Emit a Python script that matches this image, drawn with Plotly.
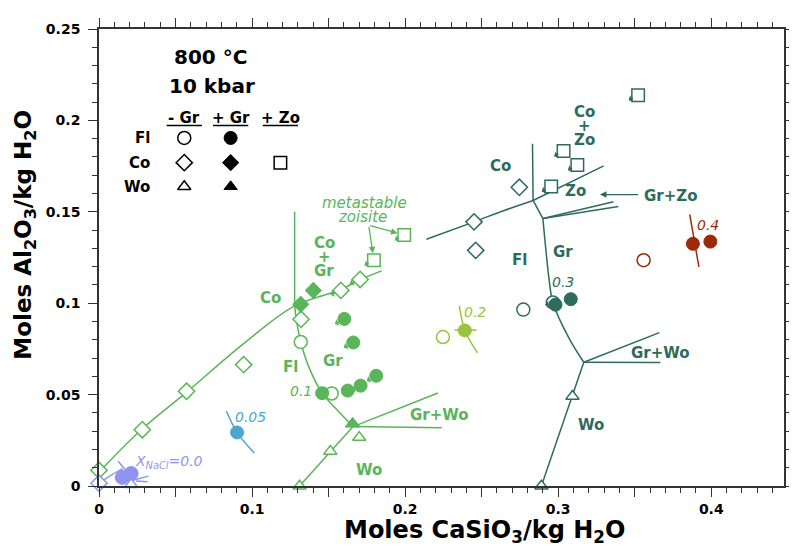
import plotly.graph_objects as go

# ---------------- colours ----------------
GREEN = "#5ab55a"
TEAL = "#2e6b5c"
RED = "#9b2a0a"
YGREEN = "#97c43c"
CYAN = "#4da6cf"
LBLUE = "#8f95ef"

# ---------------- data: X_NaCl = 0.1 (green) ----------------
g_fl_open_x = [0.1318, 0.152]
g_fl_open_y = [0.0788, 0.0506]
g_fl_gr_x = [0.1458, 0.1625, 0.1709, 0.1811, 0.1661, 0.1603]
g_fl_gr_y = [0.0508, 0.0522, 0.0549, 0.0603, 0.0785, 0.0914]
g_co_open_x = [0.0, 0.0283, 0.0572, 0.0945, 0.132, 0.158, 0.1706]
g_co_open_y = [0.0086, 0.0308, 0.0518, 0.0664, 0.0912, 0.107, 0.113]
g_co_gr_x = [0.1318, 0.140]
g_co_gr_y = [0.0994, 0.107]
g_zo_x = [0.1796, 0.1994]
g_zo_y = [0.1235, 0.1373]
g_wo_open_x = [0.170, 0.1511, 0.131]
g_wo_open_y = [0.0266, 0.019, 0.0]
g_wo_gr_x = [0.1657]
g_wo_gr_y = [0.034]

g_co_curve_x = [0.0, 0.0283, 0.0579, 0.0945, 0.1278, 0.158, 0.1704, 0.1846]
g_co_curve_y = [0.0076, 0.0313, 0.0518, 0.0779, 0.0985, 0.1075, 0.1128, 0.1177]
g_vert_x = [0.1278, 0.1278]
g_vert_y = [0.1501, 0.0985]
g_flgr_x = [0.1278, 0.1293, 0.1318, 0.137, 0.1458, 0.155, 0.166]
g_flgr_y = [0.0985, 0.0891, 0.0788, 0.0653, 0.0508, 0.0421, 0.0325]
g_wo_line_x = [0.131, 0.166]
g_wo_line_y = [0.0, 0.0325]
g_grwo_a_x = [0.166, 0.2214]
g_grwo_a_y = [0.0325, 0.0509]
g_grwo_b_x = [0.166, 0.2239]
g_grwo_b_y = [0.0325, 0.0318]

# ---------------- data: X_NaCl = 0.3 (teal) ----------------
t_fl_open_x = [0.2772, 0.2965]
t_fl_open_y = [0.0965, 0.1004]
t_fl_gr_x = [0.2982, 0.3082]
t_fl_gr_y = [0.0992, 0.1022]
t_co_open_x = [0.245, 0.2461, 0.2746]
t_co_open_y = [0.1445, 0.1289, 0.1634]
t_zo_x = [0.2954, 0.3035, 0.3125, 0.3522]
t_zo_y = [0.1638, 0.1832, 0.1756, 0.2138]
t_wo_open_x = [0.3093, 0.289]
t_wo_open_y = [0.0491, 0.0]

t_co_curve_x = [0.2139, 0.245, 0.2643, 0.2836]
t_co_curve_y = [0.135, 0.1445, 0.1506, 0.1562]
t_vert_x = [0.2832, 0.2836]
t_vert_y = [0.1872, 0.1562]
t_zo_line_x = [0.2836, 0.3297]
t_zo_line_y = [0.1562, 0.1751]
t_link_x = [0.2836, 0.29]
t_link_y = [0.1562, 0.1463]
t_grzo_a_x = [0.29, 0.3361]
t_grzo_a_y = [0.1463, 0.1555]
t_grzo_b_x = [0.29, 0.3393]
t_grzo_b_y = [0.1463, 0.1529]
t_flgr_x = [0.29, 0.2911, 0.2943, 0.2965, 0.3072, 0.3167]
t_flgr_y = [0.1463, 0.1364, 0.1112, 0.1004, 0.0806, 0.0677]
t_wo_line_x = [0.289, 0.3167]
t_wo_line_y = [0.0, 0.0677]
t_grwo_a_x = [0.3167, 0.3661]
t_grwo_a_y = [0.0677, 0.0839]
t_grwo_b_x = [0.3167, 0.3667]
t_grwo_b_y = [0.0677, 0.0675]

# ---------------- data: X_NaCl = 0.4 (red) ----------------
r_fl_open_x = [0.3558]
r_fl_open_y = [0.1235]
r_fl_gr_x = [0.388, 0.3994]
r_fl_gr_y = [0.1325, 0.1337]
r_line_x = [0.3859, 0.3919]
r_line_y = [0.1486, 0.1199]

# ---------------- data: X_NaCl = 0.2 (yellow-green) ----------------
y_fl_open_x = [0.2247]
y_fl_open_y = [0.0815]
y_fl_gr_x = [0.239]
y_fl_gr_y = [0.0851]
y_line_x = [0.2354, 0.239, 0.2472]
y_line_y = [0.0986, 0.0851, 0.0729]
y_tick_x = [0.2322, 0.2467]
y_tick_y = [0.0853, 0.0853]

# ---------------- data: X_NaCl = 0.05 (cyan) ----------------
c_fl_gr_x = [0.0902]
c_fl_gr_y = [0.0293]
c_line_x = [0.0832, 0.0902, 0.1014]
c_line_y = [0.041, 0.0293, 0.018]

# ---------------- data: X_NaCl = 0.0 (light blue) ----------------
b_co_open_x = [0.0]
b_co_open_y = [0.0015]
b_fl_gr_x = [0.0152, 0.021]
b_fl_gr_y = [0.0047, 0.0068]
b_wo_open_x = [0.021]
b_wo_open_y = [0.0008]
b_line_x = [0.0, 0.008, 0.0155]
b_line_y = [0.0015, 0.006, 0.0095]
b_tick_x = [0.0125, 0.017]
b_tick_y = [0.0135, 0.009]
b_wh1_x = [0.0221, 0.0323]
b_wh1_y = [0.0032, 0.0054]
b_wh2_x = [0.0242, 0.0317]
b_wh2_y = [0.0027, 0.0023]

# ---------------- symbol key ----------------
key_cols = [0.0557, 0.086, 0.1185]
key_rows = [0.1904, 0.1769, 0.1638]
key_row_labels = ["Fl", "Co", "Wo"]
key_headers = ["- Gr", "+ Gr", "+ Zo"]
key_header_y = 0.2012
key_underline_y = 0.1972
key_underline_half = 0.0115

# ---------------- axes ----------------
x_range = [0, 0.4475]
y_range = [0, 0.25]
x_tickvals = [0, 0.05, 0.1, 0.15, 0.2, 0.25, 0.3, 0.35, 0.4, 0.45]
x_ticktext = ["0", "", "0.1", "", "0.2", "", "0.3", "", "0.4", ""]
y_tickvals = [0, 0.05, 0.1, 0.15, 0.2, 0.25]
y_ticktext = ["0", "0.05", "0.1", "0.15", "0.2", "0.25"]

FONT = "DejaVu Sans"
LAB = 15
fig = go.Figure()


def line(xs, ys, color, width=1.5, shape="linear"):
    fig.add_trace(go.Scatter(x=xs, y=ys, mode="lines", line=dict(color=color, width=width, shape=shape),
                             showlegend=False, hoverinfo="skip", cliponaxis=False))


def pts(xs, ys, color, symbol, filled, size=13):
    fig.add_trace(go.Scatter(
        x=xs, y=ys, mode="markers", showlegend=False, hoverinfo="skip", cliponaxis=False,
        marker=dict(symbol=symbol, size=size, color=color if filled else "white",
                    line=dict(color=color, width=1.0 if filled else 1.5))))


def tail(x, y, color, ax=-11, ay=6):
    fig.add_annotation(x=x, y=y, ax=ax, ay=ay, text="", showarrow=True, arrowside="start",
                       arrowhead=2, arrowsize=0.8, arrowwidth=1.2, arrowcolor=color, standoff=6)


# lines
line(g_co_curve_x, g_co_curve_y, GREEN, shape="spline")
line(g_vert_x, g_vert_y, GREEN)
line(g_flgr_x, g_flgr_y, GREEN, shape="spline")
line(g_wo_line_x, g_wo_line_y, GREEN)
line(g_grwo_a_x, g_grwo_a_y, GREEN)
line(g_grwo_b_x, g_grwo_b_y, GREEN)

line(t_co_curve_x, t_co_curve_y, TEAL, shape="spline")
line(t_vert_x, t_vert_y, TEAL)
line(t_zo_line_x, t_zo_line_y, TEAL)
line(t_link_x, t_link_y, TEAL)
line(t_grzo_a_x, t_grzo_a_y, TEAL)
line(t_grzo_b_x, t_grzo_b_y, TEAL)
line(t_flgr_x, t_flgr_y, TEAL, shape="spline")
line(t_wo_line_x, t_wo_line_y, TEAL)
line(t_grwo_a_x, t_grwo_a_y, TEAL)
line(t_grwo_b_x, t_grwo_b_y, TEAL)

line(r_line_x, r_line_y, RED, shape="spline")
line(y_line_x, y_line_y, YGREEN, shape="spline")
line(y_tick_x, y_tick_y, YGREEN)
line(c_line_x, c_line_y, CYAN, shape="spline")
line(b_line_x, b_line_y, LBLUE, shape="spline")
line(b_tick_x, b_tick_y, LBLUE)
line(b_wh1_x, b_wh1_y, LBLUE)
line(b_wh2_x, b_wh2_y, LBLUE)

# tails (small arrows) attached to data points
for i in [2, 3, 4, 5]:
    tail(g_fl_gr_x[i], g_fl_gr_y[i], GREEN)
for i in range(len(g_zo_x)):
    tail(g_zo_x[i], g_zo_y[i], GREEN)
for i in [5, 6]:
    tail(g_co_open_x[i], g_co_open_y[i], GREEN, ax=-12, ay=5)
for i in range(len(t_zo_x)):
    tail(t_zo_x[i], t_zo_y[i], TEAL)
tail(t_fl_gr_x[0], t_fl_gr_y[0], TEAL, ax=-12, ay=0)

# markers
SZ_C, SZ_D, SZ_S, SZ_T = 13, 12.5, 12.5, 11.5
pts(g_co_open_x, g_co_open_y, GREEN, "diamond", False, SZ_D)
pts(g_co_gr_x, g_co_gr_y, GREEN, "diamond", True, SZ_D)
pts(g_zo_x, g_zo_y, GREEN, "square", False, SZ_S)
pts(g_fl_open_x, g_fl_open_y, GREEN, "circle", False, SZ_C)
pts(g_fl_gr_x, g_fl_gr_y, GREEN, "circle", True, SZ_C)
pts(g_wo_open_x, g_wo_open_y, GREEN, "triangle-up", False, SZ_T)
pts(g_wo_gr_x, g_wo_gr_y, GREEN, "triangle-up", True, 13)

pts(t_co_open_x, t_co_open_y, TEAL, "diamond", False, SZ_D)
pts(t_zo_x, t_zo_y, TEAL, "square", False, SZ_S)
pts(t_fl_open_x, t_fl_open_y, TEAL, "circle", False, SZ_C)
pts(t_fl_gr_x, t_fl_gr_y, TEAL, "circle", True, SZ_C)
pts(t_wo_open_x, t_wo_open_y, TEAL, "triangle-up", False, SZ_T)

pts(r_fl_open_x, r_fl_open_y, RED, "circle", False, SZ_C)
pts(r_fl_gr_x, r_fl_gr_y, RED, "circle", True, SZ_C)
pts(y_fl_open_x, y_fl_open_y, YGREEN, "circle", False, SZ_C)
pts(y_fl_gr_x, y_fl_gr_y, YGREEN, "circle", True, SZ_C)
pts(c_fl_gr_x, c_fl_gr_y, CYAN, "circle", True, SZ_C)
pts(b_co_open_x, b_co_open_y, LBLUE, "diamond", False, SZ_D)
pts(b_fl_gr_x, b_fl_gr_y, LBLUE, "circle", True, 14)
pts(b_wo_open_x, b_wo_open_y, LBLUE, "triangle-up", False, SZ_T)

# symbol key
key_syms = [["circle", "circle", None], ["diamond", "diamond", "square"], ["triangle-up", "triangle-up", None]]
key_sizes = {"circle": SZ_C, "diamond": SZ_D, "square": SZ_S, "triangle-up": SZ_T}
for r, row in enumerate(key_syms):
    for c, sym in enumerate(row):
        if sym is None:
            continue
        pts([key_cols[c]], [key_rows[r]], "black", sym, c == 1, key_sizes[sym])
for r, lab in enumerate(key_row_labels):
    fig.add_annotation(x=0.0345, y=key_rows[r], text=lab, showarrow=False, xanchor="right",
                       font=dict(family=FONT, size=15, color="black", weight="bold"))
for c, lab in enumerate(key_headers):
    fig.add_annotation(x=key_cols[c], y=key_header_y, text=lab, showarrow=False,
                       font=dict(family=FONT, size=15, color="black", weight="bold"))
    fig.add_shape(type="line", x0=key_cols[c] - key_underline_half, x1=key_cols[c] + key_underline_half,
                  y0=key_underline_y, y1=key_underline_y, line=dict(color="black", width=1.5))

# text labels
def label(text, x, y, color, size=LAB, bold=True, italic=False, xanchor="center"):
    fig.add_annotation(x=x, y=y, text=text, showarrow=False, xanchor=xanchor,
                       font=dict(family=FONT, size=size, color=color,
                                 weight="bold" if bold else "normal",
                                 style="italic" if italic else "normal"))

label("800 °C", 0.0729, 0.2345, "black", 20)
label("10 kbar", 0.0735, 0.2187, "black", 20)

label("Co", 0.112, 0.1026, GREEN)
label("Co", 0.147, 0.1328, GREEN)
label("+", 0.147, 0.1253, GREEN)
label("Gr", 0.147, 0.1177, GREEN)
label("Fl", 0.125, 0.0653, GREEN)
label("Gr", 0.1529, 0.0684, GREEN)
label("0.1", 0.1318, 0.0522, GREEN, 14, bold=False, italic=True)
label("Gr+Wo", 0.2225, 0.0387, GREEN)
label("Wo", 0.1764, 0.009, GREEN)
label("metastable", 0.1732, 0.1548, GREEN, 15, bold=False, italic=True)
label("zoisite", 0.1722, 0.1472, GREEN, 15, bold=False, italic=True)
for i in range(len(g_zo_x)):
    fig.add_annotation(x=g_zo_x[i], y=g_zo_y[i], ax=0.1762, ay=0.1426, axref="x", ayref="y",
                       text="", showarrow=True, arrowhead=2, arrowsize=1, arrowwidth=1.3,
                       arrowcolor=GREEN, standoff=7)

label("Co", 0.2622, 0.1748, TEAL)
label("Co", 0.3172, 0.2045, TEAL)
label("+", 0.3172, 0.1972, TEAL)
label("Zo", 0.3172, 0.1895, TEAL)
label("Zo", 0.311, 0.1616, TEAL)
label("Gr+Zo", 0.3545, 0.1589, TEAL, xanchor="left")
fig.add_annotation(x=0.3273, y=0.1594, ax=0.3531, ay=0.1594, axref="x", ayref="y", text="",
                   showarrow=True, arrowhead=2, arrowsize=1, arrowwidth=1.3, arrowcolor=TEAL)
label("Fl", 0.275, 0.1238, TEAL)
label("Gr", 0.3029, 0.1278, TEAL)
label("0.3", 0.3029, 0.1116, TEAL, 14, bold=False, italic=True)
label("Gr+Wo", 0.3667, 0.0729, TEAL)
label("Wo", 0.3215, 0.0335, TEAL)

label("0.4", 0.3976, 0.1427, RED, 14, bold=False, italic=True)
label("0.2", 0.2457, 0.095, YGREEN, 14, bold=False, italic=True)
label("0.05", 0.0988, 0.0378, CYAN, 14, bold=False, italic=True)
label("X<sub>NaCl</sub>=0.0", 0.0457, 0.0131, LBLUE, 14, bold=False, italic=True)

# axis titles
fig.add_annotation(xref="paper", yref="paper", x=0.563, y=-0.1, xanchor="center", yanchor="middle",
                   text="Moles CaSiO<sub>3</sub>/kg H<sub>2</sub>O",
                   showarrow=False, font=dict(family=FONT, size=24, color="black", weight="bold"))
fig.add_annotation(xref="paper", yref="paper", x=-0.108, y=0.55, xanchor="center", yanchor="middle",
                   text="Moles Al<sub>2</sub>O<sub>3</sub>/kg H<sub>2</sub>O",
                   showarrow=False, textangle=-90, font=dict(family=FONT, size=23, color="black", weight="bold"))

axis_common = dict(showline=True, linecolor="#333333", linewidth=1.6, mirror="ticks", ticks="outside",
                   ticklen=9, tickwidth=1.3, tickcolor="#333333", showgrid=False, zeroline=False,
                   tickfont=dict(family=FONT, size=14, color="black", weight="bold"),
                   minor=dict(ticks="outside", ticklen=5, tickwidth=1, tickcolor="#333333", dtick=0.01, tick0=0,
                              showgrid=False))
fig.update_xaxes(range=x_range, tickmode="array", tickvals=x_tickvals, ticktext=x_ticktext, **axis_common)
fig.update_yaxes(range=y_range, tickmode="array", tickvals=y_tickvals, ticktext=y_ticktext,
                 ticklabelstandoff=5, **axis_common)

# the page adds an 8 px body margin; margins compensate so the plot area sits where the reference has it
fig.update_layout(width=797, height=547, autosize=False, plot_bgcolor="white", paper_bgcolor="white",
                  margin=dict(l=91, r=10, t=15, b=69), showlegend=False)

fig.write_html("out.html")
